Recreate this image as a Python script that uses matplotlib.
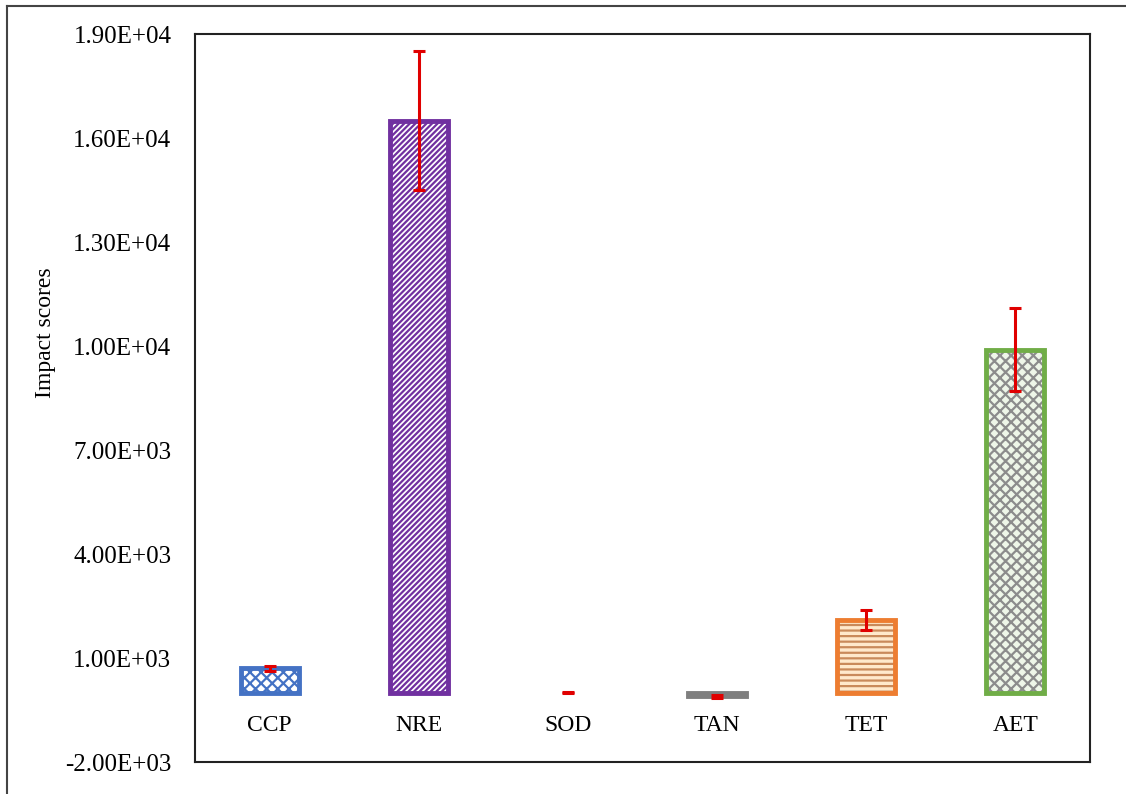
import matplotlib
matplotlib.use("Agg")
import matplotlib.pyplot as plt
from matplotlib.lines import Line2D
import numpy as np

plt.rcParams['font.family'] = ['Liberation Serif', 'DejaVu Serif']
plt.rcParams['hatch.linewidth'] = 1.6

# data
categories = ['CCP', 'NRE', 'SOD', 'TAN', 'TET', 'AET']
scores = [700, 16500, 5, -100, 2100, 9900]
errors = [80, 2000, 20, 40, 280, 1200]
yticks = [-2000, 1000, 4000, 7000, 10000, 13000, 16000, 19000]
ytick_labels = ['-2.00E+03', '1.00E+03', '4.00E+03', '7.00E+03',
                '1.00E+04', '1.30E+04', '1.60E+04', '1.90E+04']

# styling per bar: (face, hatch colour, hatch, edge)
styles = [
    ('white', '#4472C4', 'xxx', '#4472C4'),
    ('white', '#7030A0', '//////', '#7030A0'),
    ('white', 'white', '', 'white'),
    ('#7F7F7F', '#7F7F7F', '', '#7F7F7F'),
    ('#FFE9CC', '#C98A5B', '---', '#ED7D31'),
    ('#EEF6E8', '#8C8C8C', 'xxx', '#70AD47'),
]

fig = plt.figure(figsize=(11.26, 7.94), dpi=100)
ax = fig.add_axes([0.1732, 0.0403, 0.7948, 0.9167])

x = np.arange(len(categories))
w = 0.39
for xi, val, (face, hcol, hatch, edge) in zip(x, scores, styles):
    # hatch layer (hatch takes the edge colour)
    ax.bar(xi, val, width=w, color=face, edgecolor=hcol, hatch=hatch, linewidth=0, zorder=2)
    # thick outline
    if categories[xi] != 'SOD':
        ax.bar(xi, val, width=w, facecolor='none', edgecolor=edge, linewidth=3.5, zorder=3)

ax.errorbar(x, scores, yerr=errors, fmt='none', ecolor='#E00000', elinewidth=2.2,
            capsize=4.5, capthick=2.2, zorder=4)

ax.set_xlim(-0.5, len(categories) - 0.5)
ax.set_ylim(-2000, 19000)
ax.set_yticks(yticks, ytick_labels)
ax.tick_params(axis='y', length=0, pad=17, labelsize=18)
ax.set_xticks([])

# category names sit just under the zero line, like Excel's axis labels
for xi, name in zip(x, categories):
    ax.text(xi, -650, name, ha='center', va='top', fontsize=17, zorder=5)

ax.set_ylabel('Impact scores', fontsize=17)
ax.yaxis.set_label_coords(-0.155, 0.59)

for sp in ax.spines.values():
    sp.set_linewidth(1.5)
    sp.set_color('#222222')

# outer chart frame (top and left visible)
fig.add_artist(Line2D([0.0062, 1.0], [0.9924, 0.9924], color='#444444', lw=1.5))
fig.add_artist(Line2D([0.0062, 0.0062], [0.0, 0.9924], color='#444444', lw=1.5))

fig.savefig('out.png', dpi=100)
